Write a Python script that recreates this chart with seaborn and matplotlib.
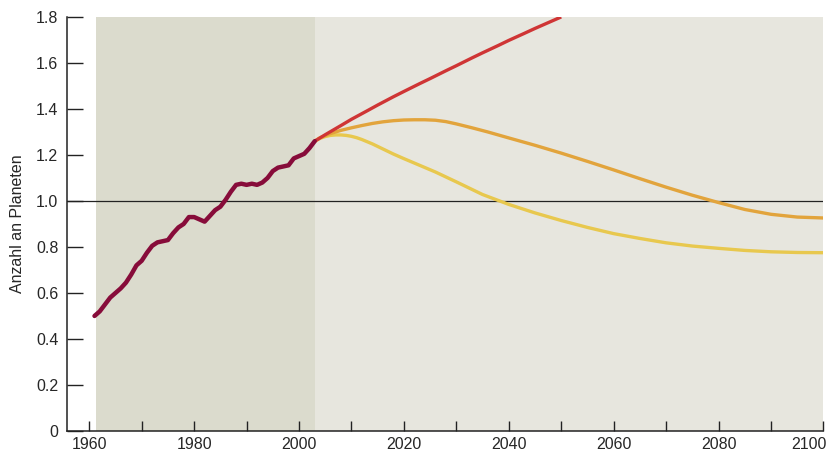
import matplotlib
matplotlib.use("Agg")
import matplotlib.pyplot as plt
import matplotlib.transforms as mtransforms
import seaborn as sns
import pandas as pd

# Historical footprint (number of planets)
hist_years = [1961, 1962, 1963, 1964, 1965, 1966, 1967, 1968, 1969, 1970,
              1971, 1972, 1973, 1974, 1975, 1976, 1977, 1978, 1979, 1980,
              1981, 1982, 1983, 1984, 1985, 1986, 1987, 1988, 1989, 1990,
              1991, 1992, 1993, 1994, 1995, 1996, 1997, 1998, 1999, 2000,
              2001, 2002, 2003]
hist_vals = [0.50, 0.52, 0.55, 0.58, 0.60, 0.62, 0.645, 0.68, 0.72, 0.74,
             0.775, 0.805, 0.82, 0.825, 0.83, 0.86, 0.885, 0.90, 0.93, 0.93,
             0.92, 0.91, 0.935, 0.96, 0.975, 1.005, 1.04, 1.07, 1.075, 1.07,
             1.075, 1.07, 1.08, 1.10, 1.13, 1.145, 1.15, 1.155, 1.185, 1.195,
             1.205, 1.23, 1.26]

# Projection: business as usual
red_years = [2003, 2005, 2008, 2010, 2013, 2015, 2018, 2020, 2023, 2025, 2028,
             2030, 2033, 2035, 2038, 2040, 2043, 2045, 2048, 2050]
red_vals = [1.26, 1.288, 1.328, 1.355, 1.392, 1.417, 1.453, 1.476, 1.51, 1.532, 1.566,
            1.588, 1.622, 1.644, 1.676, 1.698, 1.729, 1.75, 1.78, 1.80]

# Projection: moderate
orange_years = [2003, 2004, 2006, 2008, 2010, 2012, 2014, 2016, 2018, 2020, 2022,
                2024, 2026, 2028, 2030, 2033, 2036, 2040, 2045, 2050, 2055, 2060,
                2065, 2070, 2075, 2080, 2085, 2090, 2095, 2100]
orange_vals = [1.26, 1.275, 1.293, 1.307, 1.318, 1.328, 1.337, 1.344, 1.349, 1.352, 1.353,
               1.353, 1.351, 1.345, 1.335, 1.318, 1.30, 1.274, 1.242, 1.208, 1.172, 1.135,
               1.097, 1.06, 1.025, 0.993, 0.963, 0.942, 0.93, 0.926]

# Projection: rapid reduction
yellow_years = [2003, 2004, 2005, 2006, 2007, 2008, 2009, 2010, 2011, 2012, 2014,
                2016, 2018, 2020, 2023, 2026, 2030, 2035, 2040, 2045, 2050, 2055,
                2060, 2065, 2070, 2075, 2080, 2085, 2090, 2095, 2100]
yellow_vals = [1.26, 1.272, 1.28, 1.285, 1.287, 1.287, 1.285, 1.281, 1.275, 1.267, 1.248,
               1.226, 1.204, 1.184, 1.155, 1.126, 1.083, 1.028, 0.985, 0.948, 0.915, 0.885,
               0.858, 0.837, 0.818, 0.804, 0.794, 0.785, 0.779, 0.776, 0.775]

y_ticks = [0, 0.2, 0.4, 0.6, 0.8, 1.0, 1.2, 1.4, 1.6, 1.8]
y_ticklabels = ["0", "0.2", "0.4", "0.6", "0.8", "1.0", "1.2", "1.4", "1.6", "1.8"]
x_major = [1960, 1980, 2000, 2020, 2040, 2060, 2080, 2100]
x_minor = [1970, 1990, 2010, 2030, 2050, 2070, 2090]
y_label = "Anzahl an Planeten"

sns.set_style("white")
plt.rcParams["font.family"] = ["Liberation Sans", "DejaVu Sans"]

fig = plt.figure(figsize=(8.38, 4.53), dpi=100)
ax = fig.add_axes([0.0796, 0.0486, 0.9030, 0.914])
ax.set_facecolor("white")

ax.axvspan(1961.3, 2003.0, color="#dbdbcd", lw=0, zorder=0)
ax.axvspan(2003.0, 2100.0, color="#e7e6de", lw=0, zorder=0)
ax.axhline(1.0, color="#222222", lw=0.9, zorder=1)

df_h = pd.DataFrame({"year": hist_years, "val": hist_vals})
df_r = pd.DataFrame({"year": red_years, "val": red_vals})
df_o = pd.DataFrame({"year": orange_years, "val": orange_vals})
df_y = pd.DataFrame({"year": yellow_years, "val": yellow_vals})

sns.lineplot(data=df_y, x="year", y="val", ax=ax, color="#e8c84e", lw=2.4,
             zorder=3, solid_capstyle="butt")
sns.lineplot(data=df_o, x="year", y="val", ax=ax, color="#e2a43c", lw=2.4,
             zorder=4, solid_capstyle="butt")
sns.lineplot(data=df_r, x="year", y="val", ax=ax, color="#cf3535", lw=2.4,
             zorder=5, solid_capstyle="butt")
sns.lineplot(data=df_h, x="year", y="val", ax=ax, color="#870c3a", lw=3.2,
             zorder=6, solid_capstyle="round")

ax.set_xlim(1955.7, 2100.0)
ax.set_ylim(0, 1.8)
ax.set_xticks(x_major)
ax.set_xticklabels([str(v) for v in x_major])
ax.set_xticks(x_minor, minor=True)
ax.set_yticks(y_ticks)
ax.set_yticklabels(y_ticklabels)
ax.set_xlabel("")
ax.set_ylabel(y_label, fontsize=11.5, labelpad=8)

ax.tick_params(axis="y", direction="in", length=11.5, width=1, color="#222222",
               labelsize=11.5, pad=6, left=True)
ax.tick_params(axis="x", which="both", direction="in", length=7, width=1,
               color="#222222", labelsize=11.5, pad=4, bottom=True)

# keep the last label inside the figure, as in the reference
last = ax.get_xticklabels()[-1]
last.set_horizontalalignment("right")
last.set_transform(last.get_transform() +
                   mtransforms.ScaledTranslation(3 / 100, 0, fig.dpi_scale_trans))

for s in ["top", "right"]:
    ax.spines[s].set_visible(False)
for s in ["left", "bottom"]:
    ax.spines[s].set_color("#222222")
    ax.spines[s].set_linewidth(1.1)

fig.savefig("out.png", dpi=100)
